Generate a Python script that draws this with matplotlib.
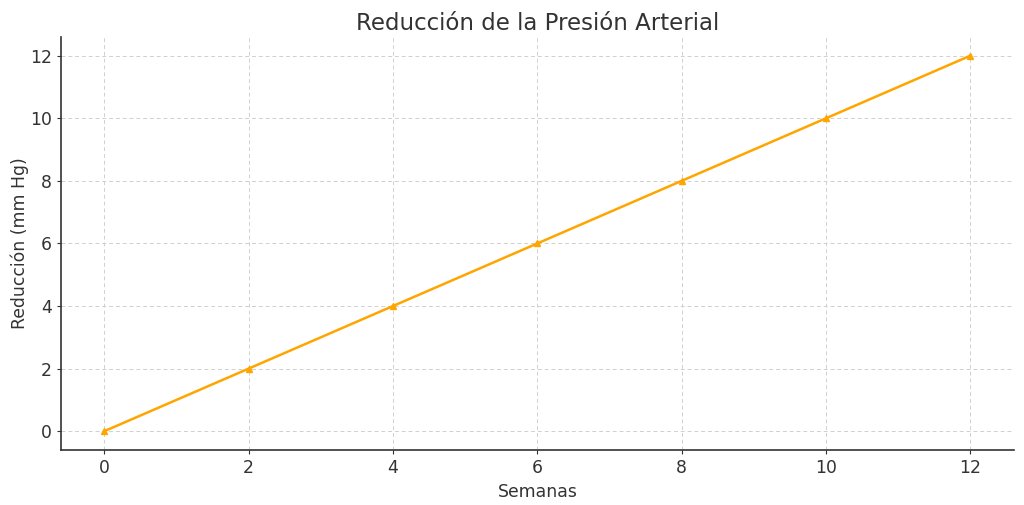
import numpy as np
import matplotlib.pyplot as plt

# datos
semanas = [0, 2, 4, 6, 8, 10, 12]
reduccion = [0, 2, 4, 6, 8, 10, 12]

plt.rcParams['font.family'] = ['DejaVu Sans']
plt.rcParams['text.color'] = '#333333'
plt.rcParams['axes.labelcolor'] = '#333333'
plt.rcParams['xtick.color'] = '#333333'
plt.rcParams['ytick.color'] = '#333333'

fig = plt.figure(figsize=(10.24, 5.05), dpi=100)
ax = fig.add_axes([0.0596, 0.109, 0.9304, 0.818])

ax.plot(semanas, reduccion, color='orange', marker='^', markersize=5, linewidth=1.8)

ax.set_title('Reducción de la Presión Arterial', fontsize=16.5, color='#333333', pad=5)
ax.set_xlabel('Semanas', fontsize=12.4)
ax.set_ylabel('Reducción (mm Hg)', fontsize=12.4, labelpad=1)
ax.set_xticks(np.arange(0, 13, 2))
ax.set_yticks(np.arange(0, 13, 2))
ax.tick_params(labelsize=12.4, length=3, color='#333333')
ax.grid(True, linestyle='--', color='#d0d0d0', linewidth=0.7, dashes=(4, 3))

for s in ['top', 'right']:
    ax.spines[s].set_visible(False)
for s in ['left', 'bottom']:
    ax.spines[s].set_color('#333333')
    ax.spines[s].set_linewidth(1.2)

fig.savefig('out.png', dpi=100)
